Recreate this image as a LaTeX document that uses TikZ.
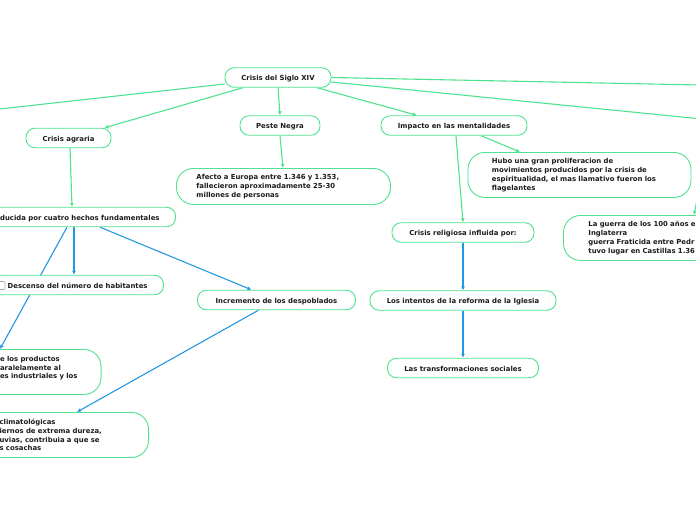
\documentclass[tikz,border=0pt]{standalone}
\usepackage{fontspec}
\setmainfont{DejaVu Sans}
\usetikzlibrary{arrows.meta,backgrounds}
\definecolor{verde}{HTML}{4FE28E}
\definecolor{azul}{HTML}{2398E2}
\definecolor{tinta}{HTML}{1C1C1C}

\begin{document}
\begin{tikzpicture}[x=1pt, y=-1pt,
  every node/.append style={font=\fontsize{6.9}{8.8}\selectfont\bfseries, text=tinta},
  caja/.style={draw=verde, line width=0.9pt, fill=white, rounded corners=9pt, minimum height=19.5pt, inner ysep=0pt, text height=1.5ex, text depth=0.3ex},
  nube/.style={draw=verde, line width=0.9pt, fill=white, rounded corners=17pt, align=left, inner ysep=0pt},
  lverde/.style={draw=verde, line width=1.1pt, -{Latex[length=4pt,width=4pt]}},
  lazul/.style={draw=azul, line width=1.1pt, -{Latex[length=4pt,width=4pt]}}]
  \useasboundingbox (0,0) rectangle (696,520);
  \clip (0,0) rectangle (696,520);

  % ideas principales
  \node[caja, minimum width=106pt] (siglo) at (278,77.5) {Crisis del Siglo XIV};
  \node[caja, minimum width=85pt] (agraria) at (68.5,138) {Crisis agraria};
  \node[caja, minimum width=80pt] (peste) at (280,125.5) {Peste Negra};
  \node[caja, minimum width=146pt] (impacto) at (454,125.5) {Impacto en las mentalidades};
  \node[caja, minimum width=142pt] (religiosa) at (463,232.5) {Crisis religiosa influida por:};
  \node[caja, minimum width=186pt] (intentos) at (463,300.5) {Los intentos de la reforma de la Iglesia};
  \node[caja, minimum width=151pt] (sociales) at (463,368) {Las transformaciones sociales};
  \node[caja, minimum width=158pt] (despoblados) at (276.5,300) {Incremento de los despoblados};
  \node[caja, anchor=east, inner xsep=16pt] (hechos) at (176,217) {ducida por cuatro hechos fundamentales};
  \node[caja, anchor=east, inner xsep=16pt] (habitantes) at (164,285) {Descenso del número de habitantes};
  \draw[gray!70, line width=0.6pt, rounded corners=1pt] (-2,281.5) rectangle (5,289.5);

  % textos largos
  \node[nube, anchor=north west, text width=174pt, inner xsep=20pt, minimum height=36pt] (afecto) at (176,168)
    {Afecto a Europa entre 1.346 y 1.353,\\fallecieron aproximadamente 25-30\\millones de personas};
  \node[nube, anchor=north west, text width=175pt, inner xsep=24pt, minimum height=45pt] (hubo) at (467.5,152)
    {Hubo una gran proliferacion de\\movimientos producidos por la crisis de\\espiritualidad, el mas llamativo fueron los\\flagelantes};
  \node[nube, anchor=north west, text width=200pt, inner xsep=25pt, minimum height=45pt] (guerra) at (563,215)
    {La guerra de los 100 años e\\Inglaterra\\guerra Fraticida entre Pedr\\tuvo lugar en Castillas 1.36};
  \node[nube, anchor=north east, text width=81pt, inner xsep=20pt, minimum height=45pt] (productos) at (101.5,349)
    {e los productos\\aralelamente al\\es industriales y los\\\mbox{}};
  \node[nube, anchor=north east, text width=129pt, inner xsep=20pt, minimum height=45pt] (climat) at (149,412)
    {climatológicas\\iernos de extrema dureza,\\uvias, contribuia a que se\\s cosachas};

  \begin{scope}[on background layer]
    \clip (0,0) rectangle (696,520);
    \coordinate (fueraI) at (-5,109.5);
    \coordinate (fueraD1) at (700,85);
    \coordinate (fueraD2) at (700,118.8);
    \coordinate (fueraD3) at (697,200);
    \draw[lverde, -] ([yshift=-6.5pt]siglo.west) -- (fueraI);
    \draw[lverde, -] (siglo.east) -- (fueraD1);
    \draw[lverde, -] ([yshift=-4.5pt]siglo.east) -- (fueraD2);
    \draw[lverde] ([xshift=-35pt]siglo.south) -- ([xshift=36pt]agraria.north);
    \draw[lverde] (siglo.south) -- (peste.north);
    \draw[lverde] ([xshift=39pt]siglo.south) -- ([xshift=-37pt]impacto.north);
    \draw[lverde] (fueraD3) -- ([xshift=131pt]guerra.north west);
    \draw[lverde] ([xshift=1.5pt]agraria.south) -- ([xshift=-104pt]hechos.north east);
    \draw[lverde] (peste.south) -- ([xshift=107pt]afecto.north west);
    \draw[lverde] ([xshift=27pt]impacto.south) -- ([xshift=52.5pt]hubo.north west);
    \draw[lverde] ([xshift=2pt]impacto.south) -- (religiosa.north);
    % hechos de la crisis
    \draw[lazul] ([xshift=-102pt]hechos.south east) -- ([xshift=-90pt]habitantes.north east);
    \draw[lazul] ([xshift=-76pt]hechos.south east) -- ([xshift=-25pt]despoblados.north);
    \draw[lazul] ([xshift=-109pt]hechos.south east) -- ([xshift=-101.5pt]productos.north east);
    \draw[lazul] ([xshift=-18pt]despoblados.south) -- ([xshift=-72pt]climat.north east);
    \draw[lazul] (religiosa.south) -- (intentos.north);
    \draw[lazul] (intentos.south) -- (sociales.north);
  \end{scope}
\end{tikzpicture}
\end{document}
